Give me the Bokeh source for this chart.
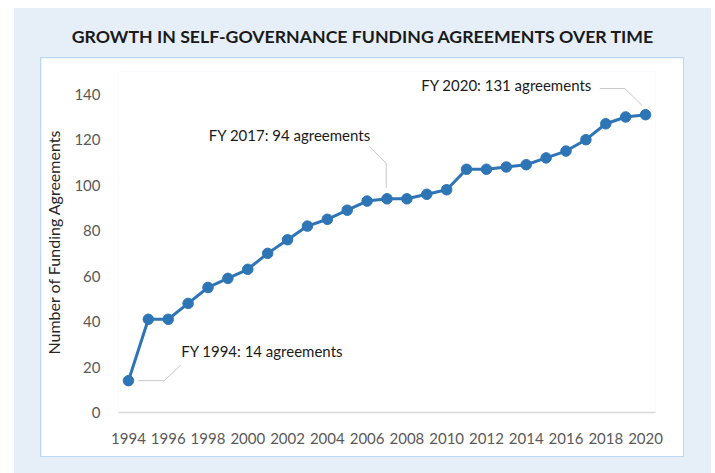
from bokeh.plotting import figure
from bokeh.models import FixedTicker, ColumnDataSource, Div
from bokeh.layouts import column
from bokeh.core.properties import value
from bokeh.embed import file_html
from bokeh.resources import INLINE

years = list(range(1994, 2021))
agreements = [14, 41, 41, 48, 55, 59, 63, 70, 76, 82, 85, 89, 93, 94, 94, 96, 98,
              107, 107, 108, 109, 112, 115, 120, 127, 130, 131]
x_ticks = list(range(1994, 2021, 2))
y_ticks = [0, 20, 40, 60, 80, 100, 120, 140]

title_text = "GROWTH IN SELF-GOVERNANCE FUNDING AGREEMENTS OVER TIME"
y_label = "Number of Funding Agreements"

# callouts: text, anchor (x, y), leader line path
callout_texts = ["FY 1994: 14 agreements", "FY 2017: 94 agreements", "FY 2020: 131 agreements"]
callout_x = [1996.65, 1998.04, 2017.3]
callout_y = [27.2, 121.9, 143.9]
callout_align = ["left", "left", "right"]
leader_xs = [[1994.5, 1995.8, 1996.65], [2006.1, 2006.96, 2006.96], [2017.7, 2018.96, 2019.82]]
leader_ys = [[14.0, 14.0, 21.0], [117.1, 109.6, 98.7], [142.5, 142.5, 135.1]]

FONT = "Lato"
BLUE = "#2e75b6"
BG = "#e6eff8"

p = figure(width=642, height=398, x_range=(1993.5, 2020.5), y_range=(0, 150),
           output_backend="svg", toolbar_location=None,
           min_border_left=77, min_border_right=28, min_border_top=13, min_border_bottom=44,
           border_fill_color="white", background_fill_color="white", outline_line_color=None,
           margin=(0, 0, 0, 27), styles={"box-shadow": "0 0 0 1px #bdd7ee"})

p.xgrid.visible = False
p.ygrid.visible = False

p.xaxis.ticker = FixedTicker(ticks=x_ticks)
p.yaxis.ticker = FixedTicker(ticks=y_ticks)
for ax in (p.xaxis[0], p.yaxis[0]):
    ax.major_tick_line_color = None
    ax.minor_tick_line_color = None
    ax.major_label_text_font = FONT
    ax.major_label_text_font_size = "15px"
    ax.major_label_text_color = "#595959"
p.xaxis.axis_line_color = "#d9d9d9"
p.xaxis.axis_line_width = 1.5
p.yaxis.axis_line_color = None
p.xaxis.major_label_standoff = 14
p.yaxis.major_label_standoff = 12
p.yaxis.axis_label = y_label
p.yaxis.axis_label_text_font = FONT
p.yaxis.axis_label_text_font_style = "normal"
p.yaxis.axis_label_text_font_size = "16px"
p.yaxis.axis_label_text_color = "#262626"
p.yaxis.axis_label_standoff = 8

for xs, ys in zip(leader_xs, leader_ys):
    p.line(xs, ys, line_color="#c8c8c8", line_width=1)

src = ColumnDataSource(dict(x=years, y=agreements))
p.line("x", "y", source=src, line_color=BLUE, line_width=3)
p.scatter("x", "y", source=src, size=10.5, fill_color=BLUE, line_color=BLUE)

csrc = ColumnDataSource(dict(x=callout_x, y=callout_y, t=callout_texts, a=callout_align))
p.text("x", "y", text="t", source=csrc, text_align="a", text_baseline="middle",
       text_font=value(FONT), text_font_size="15px", text_color="#1a1a1a")

title = Div(text=title_text, width=697, height=50, margin=0,
            styles={"font-family": FONT, "font-weight": "bold", "font-size": "17.7px",
                    "color": "#1a1a1a", "text-align": "center", "width": "697px",
                    "padding-top": "16px", "box-sizing": "border-box"})

layout = column(title, p, width=697, height=465, spacing=0, margin=(8, 0, 0, 14),
                styles={"background-color": BG})

open("out.html", "w").write(file_html(layout, INLINE))
